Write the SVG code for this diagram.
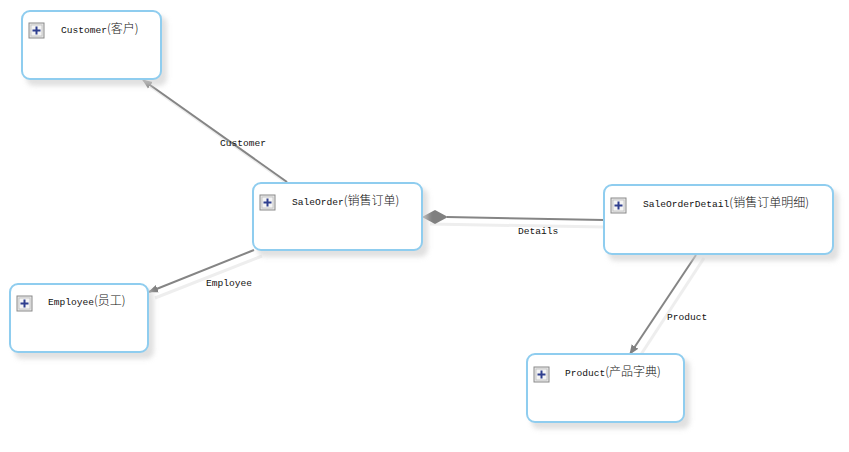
<svg xmlns="http://www.w3.org/2000/svg" width="849" height="452" viewBox="0 0 849 452">
<defs>
<marker id="arr" viewBox="0 0 10 10" refX="9" refY="5" markerWidth="10" markerHeight="10" markerUnits="userSpaceOnUse" orient="auto">
<path d="M0,1 L10,5 L0,9 z" fill="#808080"/>
</marker>
<filter id="blur" x="-20%" y="-20%" width="140%" height="140%"><feGaussianBlur stdDeviation="2.5"/></filter>
<g id="icon">
<rect x="0" y="0" width="15" height="15" fill="#e8e8e8" stroke="#8a8a8a" stroke-width="1"/>
<rect x="2" y="2" width="11" height="11" fill="#f4f4f4" stroke="#b0b0b0" stroke-width="0.6"/>
<path d="M7.5,3.5 V11.5 M3.5,7.5 H11.5" stroke="#2f3f8f" stroke-width="2"/>
</g>
</defs>
<style>
.box{fill:#fff;stroke:#8fcdef;stroke-width:2}
.shadow{fill:#d0d0d0;filter:url(#blur);opacity:0.65}
.t{font-family:"Liberation Mono","Noto Sans CJK SC",monospace;font-size:9.6px;fill:#111}
.c{font-family:"Noto Sans CJK SC",sans-serif;font-size:12px;font-weight:300}
.lbl{font-family:"Liberation Mono","Noto Sans CJK SC",monospace;font-size:9.6px;fill:#111}
.ln{stroke:#858585;stroke-width:2;fill:none}
.lns{stroke:#eeeeee;stroke-width:3;fill:none}
</style>
<rect width="849" height="452" fill="#fff"/>
<g id="connectors">
<line class="lns" x1="294" y1="188" x2="150" y2="86"/>
<line class="lns" x1="262" y1="256" x2="155" y2="298"/>
<line class="lns" x1="430" y1="224" x2="604" y2="227"/>
<line class="lns" x1="704" y1="258" x2="640" y2="356"/>
<line class="ln" x1="287" y1="182" x2="143" y2="80" marker-end="url(#arr)"/>
<line class="ln" x1="254" y1="250" x2="149" y2="292" marker-end="url(#arr)"/>
<line class="ln" x1="447" y1="217" x2="604" y2="220"/>
<path d="M422,217 L435,210 L448,217 L435,224 z" fill="#808080"/>
<line class="ln" x1="696" y1="255" x2="630" y2="354" marker-end="url(#arr)"/>
<text class="lbl" x="220" y="146">Customer</text>
<text class="lbl" x="206" y="286">Employee</text>
<text class="lbl" x="518" y="234">Details</text>
<text class="lbl" x="667" y="320">Product</text>
</g>
<g id="customer">
<rect class="shadow" x="26" y="16" width="141" height="70" rx="8"/>
<rect class="box" x="22" y="11" width="139" height="68" rx="8"/>
<use href="#icon" x="29" y="23"/>
<text class="t" x="61" y="33">Customer<tspan class="c">(客户)</tspan></text>
</g>
<g id="saleorder">
<rect class="shadow" x="257" y="188" width="171" height="69" rx="8"/>
<rect class="box" x="253" y="183" width="169" height="67" rx="8"/>
<use href="#icon" x="260" y="195"/>
<text class="t" x="292" y="205">SaleOrder<tspan class="c">(销售订单)</tspan></text>
</g>
<g id="saleorderdetail">
<rect class="shadow" x="608" y="190" width="231" height="71" rx="8"/>
<rect class="box" x="604" y="185" width="229" height="69" rx="8"/>
<use href="#icon" x="611" y="198"/>
<text class="t" x="643" y="207">SaleOrderDetail<tspan class="c">(销售订单明细)</tspan></text>
</g>
<g id="employee">
<rect class="shadow" x="14" y="289" width="140" height="70" rx="8"/>
<rect class="box" x="10" y="284" width="138" height="68" rx="8"/>
<use href="#icon" x="17" y="296"/>
<text class="t" x="48" y="305">Employee<tspan class="c">(员工)</tspan></text>
</g>
<g id="product">
<rect class="shadow" x="531" y="359" width="159" height="70" rx="8"/>
<rect class="box" x="527" y="354" width="157" height="68" rx="8"/>
<use href="#icon" x="534" y="367"/>
<text class="t" x="565" y="376">Product<tspan class="c">(产品字典)</tspan></text>
</g>
</svg>
